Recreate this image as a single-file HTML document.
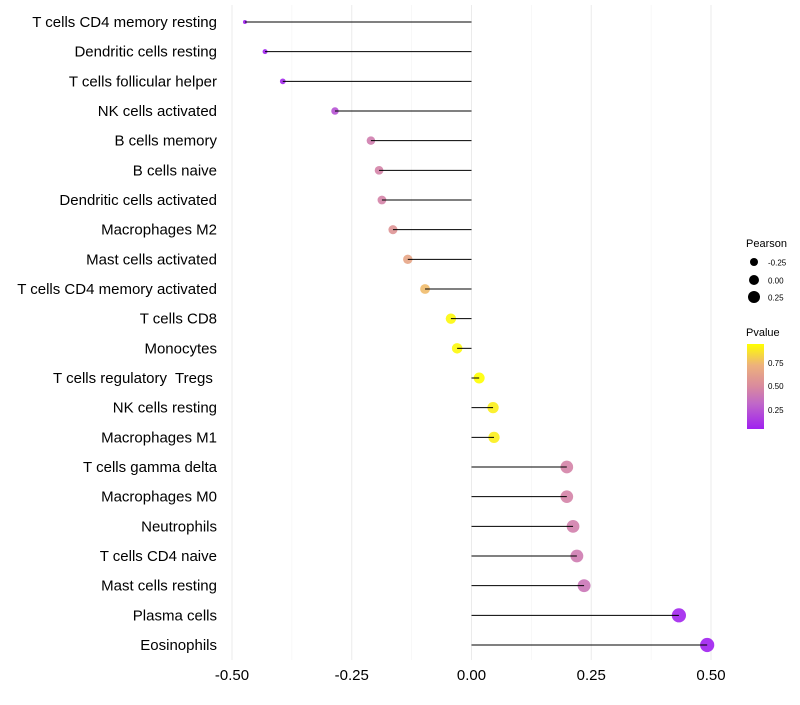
<!DOCTYPE html>
<html><head><meta charset="utf-8"><style>
body{margin:0;background:#fff;font-family:"Liberation Sans",sans-serif;}
svg text{font-family:"Liberation Sans",sans-serif;white-space:pre;}
</style></head><body>
<svg id="chart" width="800" height="700" viewBox="0 0 800 700" xmlns="http://www.w3.org/2000/svg">
<g id="grid"></g>
<g id="ylabels"></g>
<g id="dots"></g>
<g id="marks"></g>
<g id="xlabels"></g>
<g id="legend">
<text x="746" y="247" font-size="11">Pearson</text>
<circle cx="754" cy="262" r="4" fill="#000"/>
<text x="768" y="265.5" font-size="8">-0.25</text>
<circle cx="754" cy="280" r="5" fill="#000"/>
<text x="768" y="283.5" font-size="8">0.00</text>
<circle cx="754" cy="297" r="6" fill="#000"/>
<text x="768" y="300.5" font-size="8">0.25</text>
<text x="746" y="336" font-size="11">Pvalue</text>
<defs><linearGradient id="pg" x1="0" y1="1" x2="0" y2="0">
<stop offset="0" stop-color="#A020F0"/><stop offset="0.3" stop-color="#C068C8"/><stop offset="0.5" stop-color="#D98A9E"/><stop offset="0.75" stop-color="#EDB17C"/><stop offset="1" stop-color="#FFFF00"/></linearGradient></defs>
<rect x="747" y="344" width="17" height="85" fill="url(#pg)"/>
<text x="768" y="366" font-size="8">0.75</text>
<text x="768" y="389" font-size="8">0.50</text>
<text x="768" y="413" font-size="8">0.25</text>
</g>
</svg>
<script>
const categories=["T cells CD4 memory resting","Dendritic cells resting","T cells follicular helper","NK cells activated","B cells memory","B cells naive","Dendritic cells activated","Macrophages M2","Mast cells activated","T cells CD4 memory activated","T cells CD8","Monocytes","T cells regulatory  Tregs ","NK cells resting","Macrophages M1","T cells gamma delta","Macrophages M0","Neutrophils","T cells CD4 naive","Mast cells resting","Plasma cells","Eosinophils"];
const pearson=[-0.473,-0.431,-0.394,-0.285,-0.210,-0.193,-0.187,-0.164,-0.133,-0.097,-0.043,-0.030,0.016,0.045,0.047,0.199,0.199,0.212,0.220,0.235,0.433,0.492];
const pvalue=[0.03,0.04,0.06,0.22,0.42,0.45,0.45,0.55,0.65,0.75,0.93,0.93,0.96,0.9,0.9,0.45,0.45,0.43,0.41,0.38,0.05,0.03];
const xTicks=[-0.5,-0.25,0,0.25,0.5];
const xTickLabels=["-0.50","-0.25","0.00","0.25","0.50"];
const NS="http://www.w3.org/2000/svg";
const x=v=>471.5+v*479;
const y=i=>22+i*(623/21);
const rad=v=>Math.min(7.1,Math.sqrt(Math.max(2.5,29.3+53.6*v)));
function lerp(a,b,t){return Math.round(a+(b-a)*t);}
const stops=[[0,[160,32,240]],[0.3,[192,104,200]],[0.5,[217,138,158]],[0.75,[237,177,124]],[1,[255,255,0]]];
function col(p){let t=(p-0.03)/(0.95-0.03);t=Math.max(0,Math.min(1,t));
for(let k=1;k<stops.length;k++){if(t<=stops[k][0]){const a=stops[k-1],b=stops[k];const u=(t-a[0])/(b[0]-a[0]);return `rgb(${lerp(a[1][0],b[1][0],u)},${lerp(a[1][1],b[1][1],u)},${lerp(a[1][2],b[1][2],u)})`;}}return "rgb(255,255,0)";}
function mk(tag,attrs,parent){const e=document.createElementNS(NS,tag);for(const k in attrs)e.setAttribute(k,attrs[k]);parent.appendChild(e);return e;}
const grid=document.getElementById('grid');
const minor=[-0.375,-0.125,0.125,0.375];
minor.forEach(v=>{const l=mk('line',{x1:x(v),x2:x(v),y1:5,y2:660,stroke:'#f2f2f2','stroke-width':0.6},grid);

});
xTicks.forEach((v,i)=>{const l=mk('line',{x1:x(v),x2:x(v),y1:5,y2:660,stroke:'#ebebeb','stroke-width':1},grid);


const t=mk('text',{x:x(v),y:680,'font-size':15,'text-anchor':'middle',fill:'#000'},document.getElementById('xlabels'));
t.textContent=xTickLabels[i];

});
const yl=document.getElementById('ylabels'),marks=document.getElementById('marks'),dots=document.getElementById('dots');
categories.forEach((c,i)=>{
const t=mk('text',{x:217,y:y(i)+5,'font-size':15,'text-anchor':'end',fill:'#000'},yl);
t.textContent=c;


const d=mk('circle',{cx:x(pearson[i]),cy:y(i),r:rad(pearson[i]),fill:col(pvalue[i]),'fill-opacity':0.9},dots);


const l=mk('line',{x1:x(0),x2:x(pearson[i]),y1:y(i),y2:y(i),stroke:'#000','stroke-width':1},marks);


});
</script>
</body></html>
